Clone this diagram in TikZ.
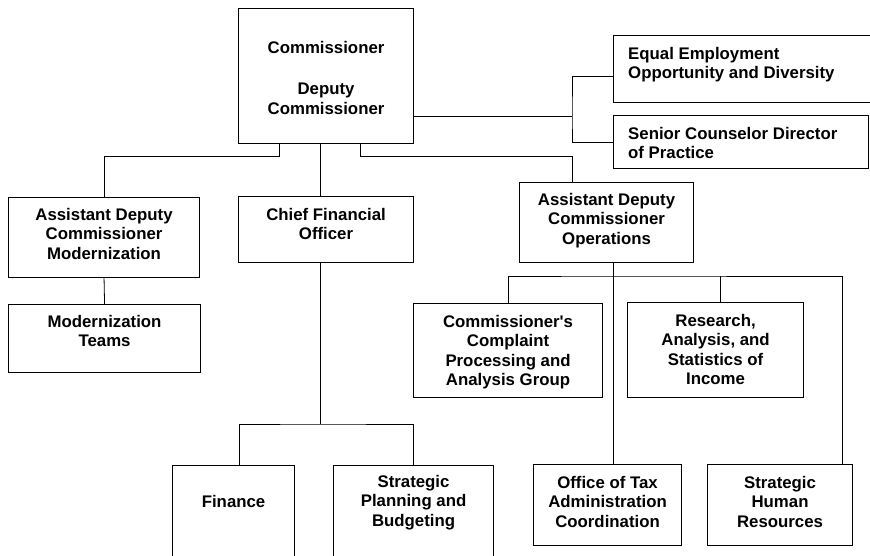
\documentclass[tikz,border=0pt]{standalone}
\usepackage{fontspec}
\setmainfont{Liberation Sans}

\begin{document}
\begin{tikzpicture}[x=1pt, y=-1pt,
    unit/.style={draw, line width=1.1pt, anchor=north west, inner sep=0pt},
    title/.style={anchor=north, align=center, inner sep=0pt,
      font=\bfseries\fontsize{16.8}{19.5}\selectfont},
    link/.style={line width=0.8pt}]

  \useasboundingbox (0,0) rectangle (870,556);

  % head office
  \node[unit, minimum width=175pt, minimum height=135pt] (comm) at (238,8) {};
  \node[unit, minimum width=265pt, minimum height=67pt] (eeo) at (613,35) {};
  \node[unit, minimum width=255pt, minimum height=53pt] (sc) at (613,115) {};

  % second row
  \node[unit, minimum width=191pt, minimum height=80pt] (adcmod) at (8,197) {};
  \node[unit, minimum width=175pt, minimum height=66pt] (cfo) at (238,196) {};
  \node[unit, minimum width=174pt, minimum height=80pt] (adcops) at (519,182) {};

  % third row
  \node[unit, minimum width=192pt, minimum height=68pt] (modt) at (8,304) {};
  \node[unit, minimum width=189pt, minimum height=94pt] (ccp) at (413,303) {};
  \node[unit, minimum width=176pt, minimum height=95pt] (ras) at (627,302) {};

  % bottom row
  \node[unit, minimum width=122pt, minimum height=100pt] (fin) at (172,465) {};
  \node[unit, minimum width=160pt, minimum height=100pt] (spb) at (333,465) {};
  \node[unit, minimum width=148pt, minimum height=81pt] (ota) at (533,464) {};
  \node[unit, minimum width=145pt, minimum height=81pt] (shr) at (707,464) {};

  % texts
  \node[title] (comm-t) at ([yshift=-33pt]comm.north)
    {Commissioner\\[22pt]Deputy\\Commissioner};
  \node[title, anchor=north west, align=left] (eeo-t) at ([xshift=15pt, yshift=-12pt]eeo.north west)
    {Equal Employment\\Opportunity and Diversity};
  \node[title, anchor=north west, align=left] (sc-t) at ([xshift=15pt, yshift=-12pt]sc.north west)
    {Senior Counselor Director\\of Practice};
  \node[title] (adcmod-t) at ([yshift=-11pt]adcmod.north)
    {Assistant Deputy\\Commissioner\\Modernization};
  \node[title] (cfo-t) at ([yshift=-12pt]cfo.north) {Chief Financial\\Officer};
  \node[title] (adcops-t) at ([yshift=-11pt]adcops.north)
    {Assistant Deputy\\Commissioner\\Operations};
  \node[title] (modt-t) at ([yshift=-11pt]modt.north) {Modernization\\Teams};
  \node[title] (ccp-t) at ([yshift=-12pt]ccp.north)
    {Commissioner\textquotesingle s\\Complaint\\Processing and\\Analysis Group};
  \node[title] (ras-t) at ([yshift=-12pt]ras.north)
    {Research,\\Analysis, and\\Statistics of\\Income};
  \node[title] (fin-t) at ([yshift=-30pt]fin.north) {Finance};
  \node[title] (spb-t) at ([yshift=-10pt]spb.north) {Strategic\\Planning and\\Budgeting};
  \node[title] (ota-t) at ([yshift=-12pt]ota.north)
    {Office of Tax\\Administration\\Coordination};
  \node[title] (shr-t) at ([yshift=-12pt]shr.north) {Strategic\\Human\\Resources};

  % junctions
  \coordinate (jl) at (279,156);
  \coordinate (jm) at (320,156);
  \coordinate (jr) at (360,156);
  \coordinate (je) at (572,116);
  \coordinate (jc) at (320,424);
  \coordinate (jo) at (613,276);

  % lines
  \draw[link] (comm.south -| jl) -- (jl) -| (adcmod.north);
  \draw[link] (comm.south -| jm) -- (cfo.north -| jm);
  \draw[link] (comm.south -| jr) -- (jr) -| (adcops.north -| je);
  \draw[link] (je -| comm.east) -- (je);
  \draw[link] ([yshift=-7pt]eeo.west) -| (je) |- (sc.west);
  \draw[link] (adcmod.south) -- (modt.north);
  \draw[link] (cfo.south -| jc) -- (jc);
  \draw[link] ([xshift=6pt]fin.north) |- (jc) -| (spb.north);
  \draw[link] (adcops.south -| jo) -- (ota.north -| jo);
  \draw[link] (ccp.north) |- (jo) -| ([xshift=62pt]shr.north);
  \draw[link] ([xshift=5pt]ras.north) -- ([xshift=5pt]ras.north |- jo);

\end{tikzpicture}
\end{document}
